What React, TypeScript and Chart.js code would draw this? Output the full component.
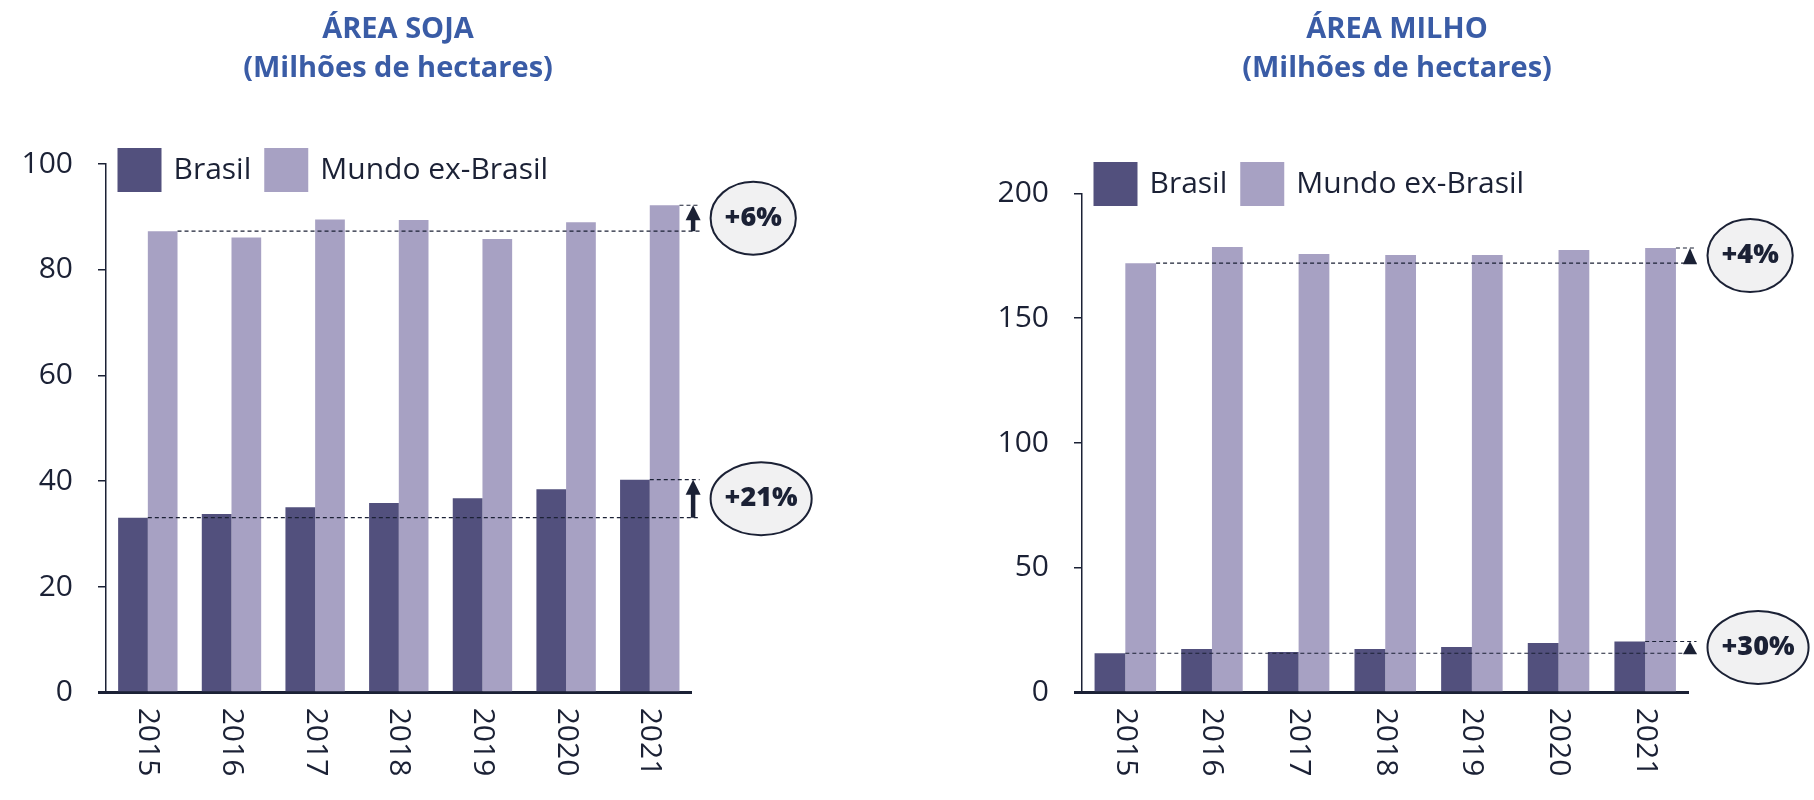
import React, { useEffect, useRef } from 'react';
import { Chart, registerables } from 'chart.js';

Chart.register(...registerables);

// ---------- data ----------
const years = ['2015', '2016', '2017', '2018', '2019', '2020', '2021'];
const seriesNames = ['Brasil', 'Mundo ex-Brasil'];

const sojaBrasil = [33.1, 33.8, 35.1, 35.9, 36.8, 38.5, 40.3];
const sojaMundo = [87.3, 86.1, 89.5, 89.4, 85.8, 89.0, 92.2];
const sojaTitle = ['ÁREA SOJA', '(Milhões de hectares)'];
const sojaChanges = ['+21%', '+6%'];
const sojaYMax = 100;
const sojaYStep = 20;

const milhoBrasil = [15.8, 17.5, 16.3, 17.5, 18.3, 19.9, 20.5];
const milhoMundo = [172.0, 178.5, 175.7, 175.3, 175.3, 177.3, 178.1];
const milhoTitle = ['ÁREA MILHO', '(Milhões de hectares)'];
const milhoChanges = ['+30%', '+4%'];
const milhoYMax = 200;
const milhoYStep = 50;

// ---------- styles ----------
const DARK = '#1b2135';
const BRASIL_COLOR = '#52507d';
const MUNDO_COLOR = '#a7a1c3';
const TITLE_COLOR = '#3a5ca6';
const FONT = '"Open Sans", "Noto Sans", sans-serif';
const CANVAS_W = 907;
const CANVAS_H = 800;

type PanelStyle = {
  axisWidth: number;
  padTop: number;
  padRight: number;
  legendTop: number;
  titleX: number;
  marker: 'arrow' | 'triangle';
};

const sojaStyle: PanelStyle = { axisWidth: 106, padTop: 164, padRight: 215.4, legendTop: 148, titleX: 398, marker: 'arrow' };
const milhoStyle: PanelStyle = { axisWidth: 175, padTop: 193.3, padRight: 125.5, legendTop: 162, titleX: 490, marker: 'triangle' };

function decorPlugin(title: string[], changes: string[], st: PanelStyle) {
  return {
    id: 'decor',
    afterDatasetsDraw(chart: any) {
      const { ctx, chartArea, scales } = chart;
      const yS = scales.y;
      chart.data.datasets.forEach((ds: any, di: number) => {
        const vals = ds.data as number[];
        const meta = chart.getDatasetMeta(di);
        const n = vals.length;
        const b0: any = meta.data[0];
        const b1: any = meta.data[n - 1];
        const y0 = yS.getPixelForValue(vals[0]);
        const y1 = yS.getPixelForValue(vals[n - 1]);
        const xEnd = chartArea.right + 8;
        ctx.save();
        ctx.strokeStyle = DARK;
        ctx.lineWidth = 1.2;
        ctx.setLineDash([4, 3]);
        ctx.beginPath();
        ctx.moveTo(b0.x + b0.width / 2, y0);
        ctx.lineTo(xEnd, y0);
        ctx.moveTo(b1.x + b1.width / 2, y1);
        ctx.lineTo(xEnd, y1);
        ctx.stroke();
        ctx.setLineDash([]);
        const ax = chartArea.right + 1.5;
        ctx.fillStyle = DARK;
        if (st.marker === 'arrow') {
          ctx.lineWidth = 4.5;
          ctx.beginPath();
          ctx.moveTo(ax, y0);
          ctx.lineTo(ax, y1 + 10);
          ctx.stroke();
          ctx.beginPath();
          ctx.moveTo(ax, y1);
          ctx.lineTo(ax + 7.5, y1 + 15);
          ctx.lineTo(ax - 7.5, y1 + 15);
          ctx.closePath();
          ctx.fill();
        } else {
          ctx.beginPath();
          ctx.moveTo(ax, y1);
          ctx.lineTo(ax + 7, y0 + 1);
          ctx.lineTo(ax - 7, y0 + 1);
          ctx.closePath();
          ctx.fill();
        }
        ctx.font = `800 27px ${FONT}`;
        const label = changes[di];
        const tw = ctx.measureText(label).width;
        const rx = tw / 2 + 14;
        const ry = 36.5;
        const cx = chartArea.right + 19 + rx;
        const cy = (y0 + y1) / 2;
        ctx.beginPath();
        ctx.ellipse(cx, cy, rx, ry, 0, 0, Math.PI * 2);
        ctx.fillStyle = '#f1f1f2';
        ctx.fill();
        ctx.lineWidth = 2;
        ctx.strokeStyle = DARK;
        ctx.stroke();
        ctx.fillStyle = DARK;
        ctx.textAlign = 'center';
        ctx.textBaseline = 'middle';
        ctx.fillText(label, cx, cy);
        ctx.restore();
      });
    },
    afterDraw(chart: any) {
      const { ctx, chartArea, scales } = chart;
      ctx.save();
      // rotated category labels
      ctx.font = `30px ${FONT}`;
      ctx.fillStyle = DARK;
      ctx.textAlign = 'left';
      ctx.textBaseline = 'middle';
      (chart.data.labels as string[]).forEach((lab, i) => {
        const x = scales.x.getPixelForValue(i);
        ctx.save();
        ctx.translate(x, chartArea.bottom + 15);
        ctx.rotate(Math.PI / 2);
        ctx.fillText(lab, 0, 0);
        ctx.restore();
      });
      // legend
      let lx = chartArea.left + 11.5;
      const size = 44;
      chart.data.datasets.forEach((ds: any) => {
        ctx.fillStyle = ds.backgroundColor;
        ctx.fillRect(lx, st.legendTop, size, size);
        lx += size + 12;
        ctx.fillStyle = DARK;
        ctx.fillText(ds.label, lx, st.legendTop + size / 2);
        lx += ctx.measureText(ds.label).width + 13;
      });
      // title
      ctx.font = `bold 29px ${FONT}`;
      ctx.fillStyle = TITLE_COLOR;
      ctx.textAlign = 'center';
      ctx.fillText(title[0], st.titleX, 29.4);
      ctx.fillText(title[1], st.titleX, 68.8);
      ctx.restore();
    },
  };
}

function makeConfig(brasil: number[], mundo: number[], title: string[], changes: string[], yMax: number, yStep: number, st: PanelStyle): any {
  return {
    type: 'bar',
    data: {
      labels: years,
      datasets: [
        { label: seriesNames[0], data: brasil, backgroundColor: BRASIL_COLOR, borderWidth: 0 },
        { label: seriesNames[1], data: mundo, backgroundColor: MUNDO_COLOR, borderWidth: 0 },
      ],
    },
    options: {
      responsive: false,
      animation: false,
      events: [],
      datasets: { bar: { categoryPercentage: 0.71, barPercentage: 1 } },
      layout: { padding: { top: st.padTop, right: st.padRight, left: 0, bottom: 0 } },
      plugins: {
        legend: { display: false },
        title: { display: false },
        tooltip: { enabled: false },
      },
      scales: {
        x: {
          z: 1,
          grid: { display: false },
          border: { display: true, color: DARK, width: 3 },
          ticks: { display: false },
          afterFit: (s: any) => { s.height = CANVAS_H - 692.7; },
        },
        y: {
          min: 0,
          max: yMax,
          ticks: { stepSize: yStep, padding: 25, color: DARK, font: { family: FONT, size: 30 } },
          grid: {
            drawOnChartArea: false,
            drawTicks: true,
            tickLength: 8,
            color: DARK,
            lineWidth: (c: any) => (c.tick && c.tick.value === 0 ? 3 : 1.5),
          },
          border: { display: true, color: DARK, width: 1.5 },
          afterFit: (s: any) => { s.width = st.axisWidth; },
        },
      },
    },
    plugins: [decorPlugin(title, changes, st)],
  };
}

function Panel(props: { brasil: number[]; mundo: number[]; title: string[]; changes: string[]; yMax: number; yStep: number; st: PanelStyle }) {
  const ref = useRef<HTMLCanvasElement | null>(null);
  useEffect(() => {
    let chart: Chart | null = null;
    let cancelled = false;
    const build = () => {
      if (cancelled || !ref.current) return;
      chart = new Chart(ref.current, makeConfig(props.brasil, props.mundo, props.title, props.changes, props.yMax, props.yStep, props.st));
    };
    const fonts: any = (document as any).fonts;
    if (fonts && fonts.load) {
      Promise.all([
        fonts.load(`30px "Open Sans"`),
        fonts.load(`bold 29px "Open Sans"`),
        fonts.load(`800 27px "Open Sans"`),
      ]).then(build, build);
    } else {
      build();
    }
    return () => {
      cancelled = true;
      if (chart) chart.destroy();
    };
  }, []);
  return <canvas ref={ref} width={CANVAS_W} height={CANVAS_H} style={{ display: 'block', width: CANVAS_W, height: CANVAS_H }} />;
}

export default function App() {
  return (
    <div style={{ position: 'absolute', left: 0, top: 0, width: 1814, height: 800, background: '#ffffff', display: 'flex' }}>
      <Panel brasil={sojaBrasil} mundo={sojaMundo} title={sojaTitle} changes={sojaChanges} yMax={sojaYMax} yStep={sojaYStep} st={sojaStyle} />
      <Panel brasil={milhoBrasil} mundo={milhoMundo} title={milhoTitle} changes={milhoChanges} yMax={milhoYMax} yStep={milhoYStep} st={milhoStyle} />
    </div>
  );
}
